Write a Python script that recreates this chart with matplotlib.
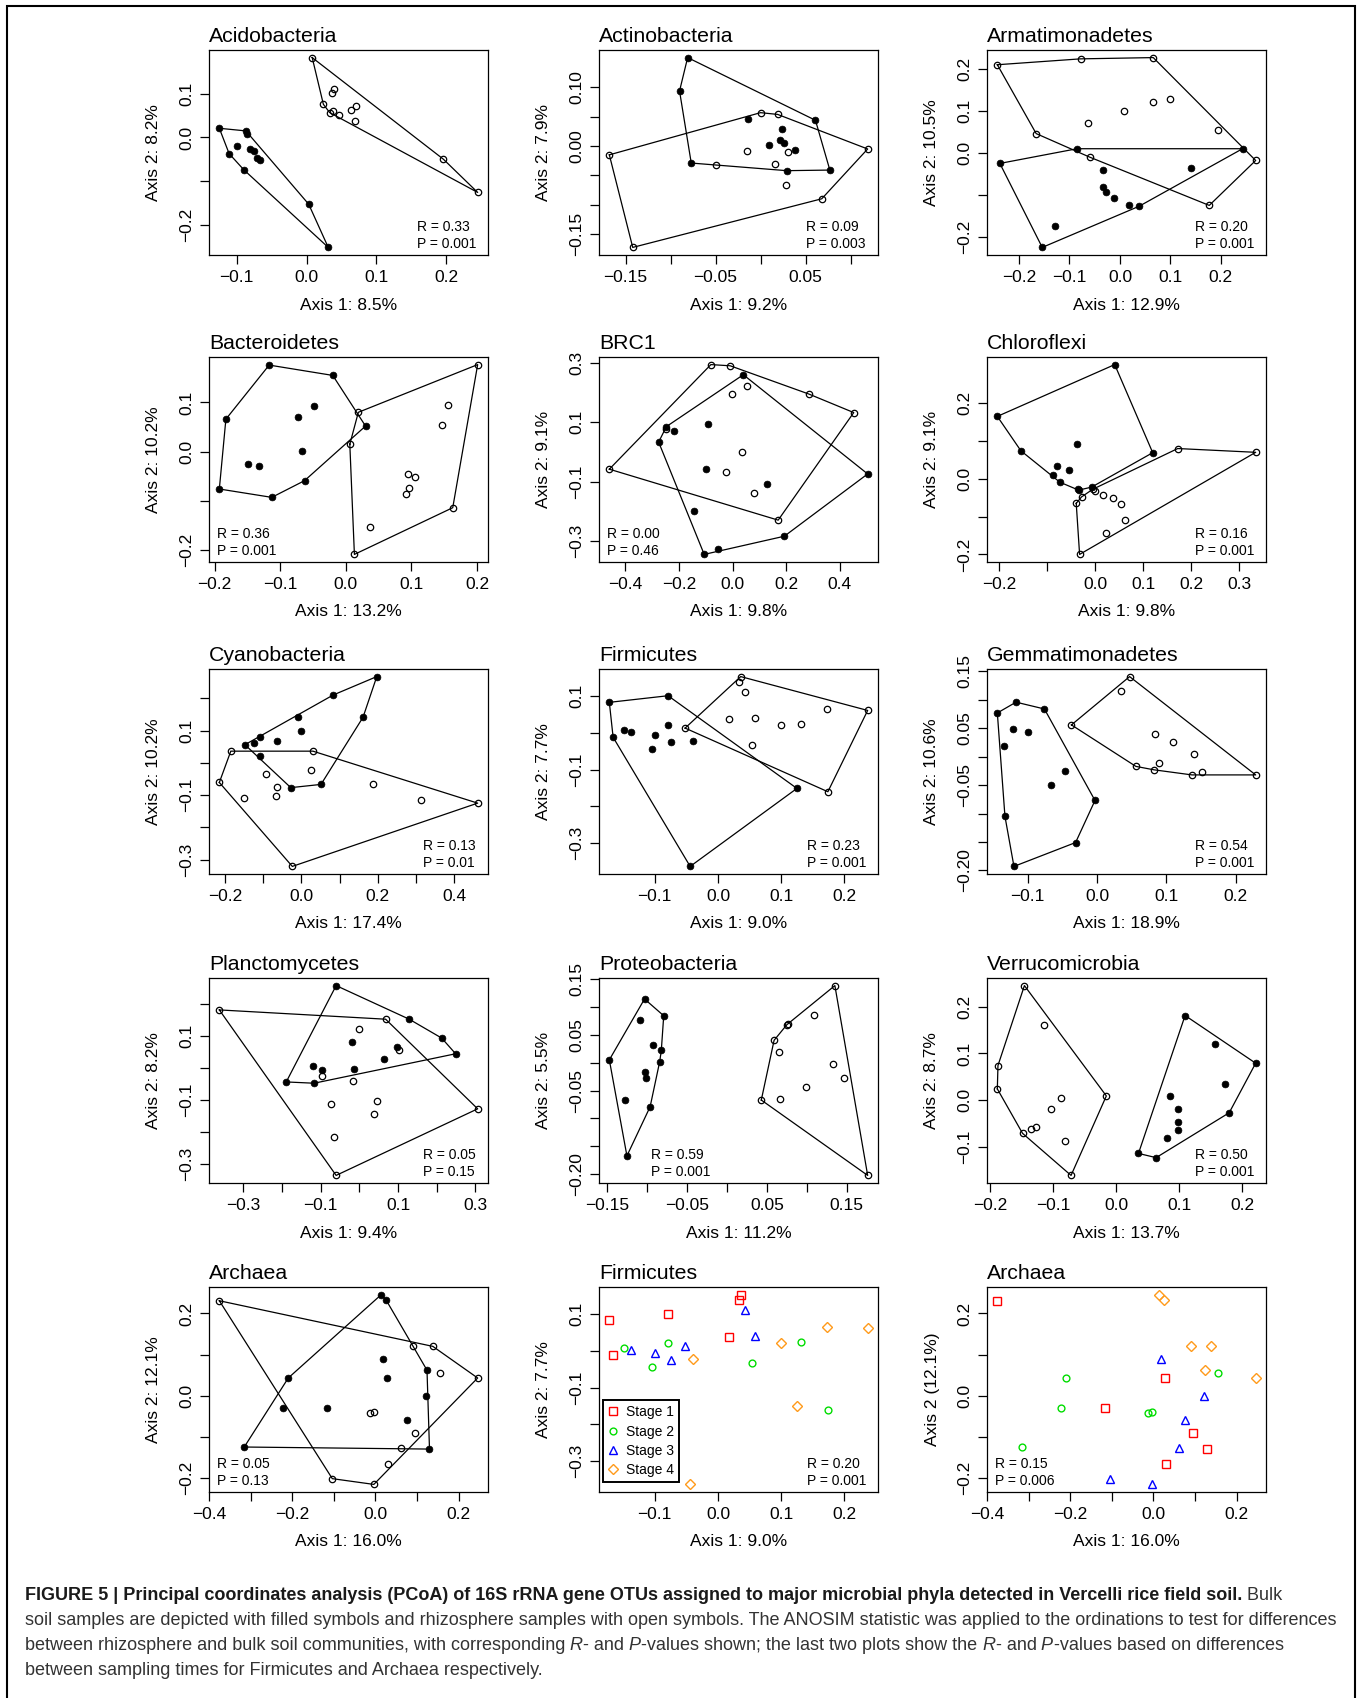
import numpy as np
import matplotlib
matplotlib.use("Agg")
import matplotlib.pyplot as plt
from matplotlib.lines import Line2D
from matplotlib.patches import Rectangle

plt.rcParams['font.family'] = ['Liberation Sans', 'DejaVu Sans']

# PCoA scores (Axis 1, Axis 2); bulk = filled symbols, rhizo = open symbols
acido_bulk = [(-0.125, 0.021), (-0.087, 0.015), (-0.086, 0.008), (-0.100, -0.019), (-0.111, -0.037), (-0.081, -0.027),
              (-0.076, -0.031), (-0.071, -0.046), (-0.067, -0.051), (-0.090, -0.074), (0.003, -0.153), (0.031, -0.252)]
acido_rhizo = [(0.008, 0.183), (0.039, 0.111), (0.036, 0.103), (0.024, 0.076), (0.033, 0.057), (0.038, 0.061),
               (0.046, 0.052), (0.064, 0.063), (0.071, 0.071), (0.069, 0.037), (0.196, -0.050), (0.245, -0.126)]

actino_bulk = [(-0.081, 0.151), (-0.090, 0.094), (-0.077, -0.029), (-0.014, 0.046), (0.024, 0.029), (0.022, 0.011),
               (0.026, 0.006), (0.009, 0.001), (0.038, -0.007), (0.029, -0.042), (0.077, -0.041), (0.061, 0.044)]
actino_rhizo = [(-0.168, -0.015), (-0.142, -0.173), (-0.049, -0.033), (0.000, 0.057), (0.019, 0.054), (-0.015, -0.008),
                (0.031, -0.010), (0.016, -0.031), (0.028, -0.066), (0.068, -0.090), (0.119, -0.005)]

armat_bulk = [(-0.238, -0.025), (-0.154, -0.225), (-0.128, -0.173), (-0.085, 0.010), (-0.034, -0.040), (-0.034, -0.080),
              (-0.028, -0.094), (-0.011, -0.108), (0.018, -0.124), (0.038, -0.127), (0.140, -0.036), (0.243, 0.010)]
armat_rhizo = [(-0.243, 0.210), (-0.078, 0.224), (0.066, 0.227), (-0.166, 0.046), (-0.063, 0.072), (-0.060, -0.010),
               (0.009, 0.101), (0.065, 0.121), (0.100, 0.129), (0.195, 0.054), (0.269, -0.018), (0.177, -0.125)]

bact_bulk = [(-0.117, 0.176), (-0.020, 0.155), (-0.183, 0.066), (-0.193, -0.076), (-0.113, -0.093), (-0.063, -0.059),
             (0.030, 0.052), (-0.048, 0.093), (-0.073, 0.071), (-0.067, 0.002), (-0.150, -0.026), (-0.132, -0.029)]
bact_rhizo = [(0.201, 0.177), (0.019, 0.080), (0.006, 0.015), (0.156, 0.095), (0.146, 0.055), (0.095, -0.046),
              (0.105, -0.052), (0.096, -0.074), (0.092, -0.086), (0.163, -0.114), (0.037, -0.153), (0.013, -0.209)]

brc_bulk = [(0.040, 0.259), (-0.247, 0.085), (-0.219, 0.071), (-0.276, 0.033), (-0.092, 0.094), (-0.101, -0.058),
            (-0.144, -0.198), (-0.106, -0.344), (-0.055, -0.325), (0.129, -0.108), (0.193, -0.283), (0.504, -0.074)]
brc_rhizo = [(-0.081, 0.293), (-0.009, 0.289), (-0.460, -0.058), (-0.247, 0.077), (-0.003, 0.194), (0.052, 0.222),
             (0.285, 0.194), (0.452, 0.132), (0.035, -0.002), (-0.023, -0.067), (0.078, -0.137), (0.170, -0.229)]

chloro_bulk = [(0.041, 0.302), (-0.203, 0.165), (-0.154, 0.074), (0.120, 0.069), (-0.037, 0.091), (-0.078, 0.033),
               (-0.053, 0.023), (-0.088, 0.009), (-0.073, -0.009), (-0.035, -0.026), (-0.007, -0.022), (-0.034, -0.030)]
chloro_rhizo = [(0.172, 0.080), (0.334, 0.070), (0.001, -0.033), (-0.005, -0.028), (-0.028, -0.048), (-0.039, -0.065),
                (0.016, -0.044), (0.037, -0.052), (0.054, -0.067), (0.062, -0.109), (0.023, -0.143), (-0.032, -0.200)]

cyano_bulk = [(0.197, 0.267), (0.083, 0.210), (-0.008, 0.141), (-0.002, 0.100), (0.161, 0.141), (-0.108, 0.079),
              (-0.124, 0.062), (-0.148, 0.056), (-0.063, 0.067), (-0.108, 0.020), (-0.028, -0.077), (0.051, -0.067)]
cyano_rhizo = [(-0.185, 0.036), (0.030, 0.036), (-0.215, -0.061), (-0.093, -0.034), (0.024, -0.022), (-0.065, -0.075),
               (-0.067, -0.104), (-0.150, -0.109), (0.187, -0.067), (0.313, -0.116), (0.461, -0.125), (-0.024, -0.321)]

gemma_bulk = [(-0.144, 0.077), (-0.117, 0.096), (-0.076, 0.084), (-0.121, 0.049), (-0.099, 0.044), (-0.134, 0.018),
              (-0.046, -0.025), (-0.067, -0.050), (-0.003, -0.077), (-0.133, -0.105), (-0.031, -0.151), (-0.120, -0.193)]
gemma_rhizo = [(0.047, 0.141), (0.035, 0.115), (-0.037, 0.056), (0.084, 0.040), (0.109, 0.026), (0.140, 0.005),
               (0.089, -0.011), (0.056, -0.017), (0.082, -0.023), (0.152, -0.027), (0.137, -0.032), (0.229, -0.032)]

planc_bulk = [(-0.060, 0.257), (0.129, 0.152), (0.213, 0.093), (0.249, 0.044), (-0.020, 0.082), (0.097, 0.065),
              (0.064, 0.027), (-0.121, 0.006), (-0.097, -0.008), (-0.014, -0.003), (-0.189, -0.044), (-0.117, -0.048)]
planc_rhizo = [(-0.362, 0.181), (0.068, 0.152), (-0.002, 0.122), (0.103, 0.056), (-0.097, -0.025), (-0.016, -0.040),
               (-0.072, -0.114), (0.046, -0.105), (0.038, -0.145), (-0.066, -0.217), (0.306, -0.128), (-0.060, -0.336)]

proteo_bulk = [(-0.103, 0.114), (-0.079, 0.084), (-0.109, 0.076), (-0.093, 0.032), (-0.082, 0.022), (-0.084, 0.002),
               (-0.102, -0.017), (-0.101, -0.027), (-0.147, 0.005), (-0.128, -0.067), (-0.096, -0.079), (-0.125, -0.167)]
proteo_rhizo = [(0.135, 0.138), (0.109, 0.085), (0.077, 0.070), (0.075, 0.068), (0.059, 0.040), (0.065, 0.019),
                (0.133, -0.002), (0.146, -0.027), (0.099, -0.044), (0.067, -0.066), (0.043, -0.067), (0.176, -0.202)]

verru_bulk = [(0.109, 0.181), (0.156, 0.120), (0.221, 0.079), (0.172, 0.034), (0.085, 0.009), (0.098, -0.018),
              (0.098, -0.046), (0.098, -0.064), (0.080, -0.082), (0.179, -0.027), (0.035, -0.114), (0.063, -0.123)]
verru_rhizo = [(-0.146, 0.245), (-0.115, 0.161), (-0.188, 0.074), (-0.189, 0.024), (-0.088, 0.005), (-0.104, -0.018),
               (-0.127, -0.058), (-0.136, -0.061), (-0.149, -0.071), (-0.081, -0.087), (-0.072, -0.161), (-0.016, 0.009)]

# Firmicutes and Archaea: 24 samples each, with sampling stage and soil type (1 = bulk, 0 = rhizosphere)
firm_x = [-0.172, -0.166, -0.079, 0.036, 0.034, 0.017,
          -0.148, -0.104, -0.079, 0.054, 0.132, 0.174,
          -0.137, -0.099, -0.075, -0.052, 0.043, 0.058,
          -0.039, 0.125, -0.044, 0.099, 0.173, 0.237]
firm_y = [0.083, -0.012, 0.101, 0.153, 0.138, 0.038,
          0.008, -0.044, 0.022, -0.033, 0.025, -0.160,
          0.002, -0.005, -0.024, 0.013, 0.112, 0.040,
          -0.021, -0.151, -0.363, 0.021, 0.064, 0.061]
arch_x = [-0.116, 0.028, 0.130, -0.376, 0.096, 0.029,
          -0.210, -0.222, -0.316, -0.014, -0.004, 0.155,
          0.018, 0.122, 0.076, 0.062, -0.104, -0.004,
          0.014, 0.026, 0.124, 0.090, 0.138, 0.246]
arch_y = [-0.030, 0.043, -0.130, 0.231, -0.090, -0.166,
          0.043, -0.030, -0.125, -0.042, -0.040, 0.056,
          0.089, -0.002, -0.059, -0.127, -0.202, -0.216,
          0.246, 0.232, 0.062, 0.122, 0.120, 0.043]
sample_stage = [1] * 6 + [2] * 6 + [3] * 6 + [4] * 6
sample_bulk = [1, 1, 1, 0, 0, 0] * 4

stage_labels = ['Stage 1', 'Stage 2', 'Stage 3', 'Stage 4']
stage_colors = ['#FF0000', '#00DD00', '#0000FF', '#FF9A1A']
stage_markers = ['s', 'o', '^', 'D']
stage_ms = [5.2, 4.9, 5.8, 4.6]

M = '\u2212'
# ticks (labels hidden where R dropped them)
acido_xt, acido_xl = [-0.1, 0, 0.1, 0.2], [M + '0.1', '0.0', '0.1', '0.2']
acido_yt, acido_yl = [-0.2, -0.1, 0, 0.1], [M + '0.2', '', '0.0', '0.1']
actino_xt, actino_xl = [-0.15, -0.10, -0.05, 0, 0.05, 0.10], [M + '0.15', '', M + '0.05', '', '0.05', '']
actino_yt, actino_yl = [-0.15, -0.10, -0.05, 0, 0.05, 0.10], [M + '0.15', '', '', '0.00', '', '0.10']
armat_xt, armat_xl = [-0.2, -0.1, 0, 0.1, 0.2], [M + '0.2', M + '0.1', '0.0', '0.1', '0.2']
armat_yt, armat_yl = [-0.2, -0.1, 0, 0.1, 0.2], [M + '0.2', '', '0.0', '0.1', '0.2']
bact_xt, bact_xl = [-0.2, -0.1, 0, 0.1, 0.2], [M + '0.2', M + '0.1', '0.0', '0.1', '0.2']
bact_yt, bact_yl = [-0.2, -0.1, 0, 0.1], [M + '0.2', '', '0.0', '0.1']
brc_xt, brc_xl = [-0.4, -0.2, 0, 0.2, 0.4], [M + '0.4', M + '0.2', '0.0', '0.2', '0.4']
brc_yt, brc_yl = [-0.3, -0.1, 0.1, 0.3], [M + '0.3', M + '0.1', '0.1', '0.3']
chloro_xt, chloro_xl = [-0.2, -0.1, 0, 0.1, 0.2, 0.3], [M + '0.2', '', '0.0', '0.1', '0.2', '0.3']
chloro_yt, chloro_yl = [-0.2, -0.1, 0, 0.1, 0.2], [M + '0.2', '', '0.0', '', '0.2']
cyano_xt, cyano_xl = [-0.2, -0.1, 0, 0.1, 0.2, 0.3, 0.4], [M + '0.2', '', '0.0', '', '0.2', '', '0.4']
cyano_yt, cyano_yl = [-0.3, -0.2, -0.1, 0, 0.1, 0.2], [M + '0.3', '', M + '0.1', '', '0.1', '']
firm_xt, firm_xl = [-0.1, 0, 0.1, 0.2], [M + '0.1', '0.0', '0.1', '0.2']
firm_yt, firm_yl = [-0.3, -0.2, -0.1, 0, 0.1], [M + '0.3', '', M + '0.1', '', '0.1']
gemma_xt, gemma_xl = [-0.1, 0, 0.1, 0.2], [M + '0.1', '0.0', '0.1', '0.2']
gemma_yt = [-0.20, -0.15, -0.10, -0.05, 0, 0.05, 0.10, 0.15]
gemma_yl = [M + '0.20', '', '', M + '0.05', '', '0.05', '', '0.15']
planc_xt, planc_xl = [-0.3, -0.2, -0.1, 0, 0.1, 0.2, 0.3], [M + '0.3', '', M + '0.1', '', '0.1', '', '0.3']
planc_yt, planc_yl = [-0.3, -0.2, -0.1, 0, 0.1, 0.2], [M + '0.3', '', M + '0.1', '', '0.1', '']
proteo_xt = [-0.15, -0.10, -0.05, 0, 0.05, 0.10, 0.15]
proteo_xl = [M + '0.15', '', M + '0.05', '', '0.05', '', '0.15']
proteo_yt = [-0.20, -0.15, -0.10, -0.05, 0, 0.05, 0.10, 0.15]
proteo_yl = [M + '0.20', '', '', M + '0.05', '', '0.05', '', '0.15']
verru_xt, verru_xl = [-0.2, -0.1, 0, 0.1, 0.2], [M + '0.2', M + '0.1', '0.0', '0.1', '0.2']
verru_yt, verru_yl = [-0.1, 0, 0.1, 0.2], [M + '0.1', '0.0', '0.1', '0.2']
arch_xt, arch_xl = [-0.4, -0.3, -0.2, -0.1, 0, 0.1, 0.2], [M + '0.4', '', M + '0.2', '', '0.0', '', '0.2']
arch_yt, arch_yl = [-0.2, -0.1, 0, 0.1, 0.2], [M + '0.2', '', '0.0', '', '0.2']

# ---------------------------------------------------------------- layout (pixels)
W, H = 1362, 1698
COL_X = [209, 599, 987]
ROW_Y = [50, 357, 669, 978, 1287]
BOX_W, BOX_H = 279, 205
LAB_FS, TITLE_FS, STAT_FS = 12.5, 15.3, 10

fig = plt.figure(figsize=(W / 100, H / 100), dpi=100)


def make_ax(row, col):
    return fig.add_axes([COL_X[col] / W, 1 - (ROW_Y[row] + BOX_H) / H, BOX_W / W, BOX_H / H])


def lims(v):
    lo, hi = min(v), max(v)
    r = hi - lo
    return lo - 0.04 * r, hi + 0.04 * r


def hull(pts):
    p = sorted(set(pts))

    def cross(o, a, b):
        return (a[0] - o[0]) * (b[1] - o[1]) - (a[1] - o[1]) * (b[0] - o[0])
    lower, upper = [], []
    for q in p:
        while len(lower) >= 2 and cross(lower[-2], lower[-1], q) <= 0:
            lower.pop()
        lower.append(q)
    for q in reversed(p):
        while len(upper) >= 2 and cross(upper[-2], upper[-1], q) <= 0:
            upper.pop()
        upper.append(q)
    h = lower[:-1] + upper[:-1]
    return h + [h[0]]


def style_ax(ax, xs, ys, xt, xl, yt, yl, title, xlab, ylab):
    ax.set_xlim(lims(xs))
    ax.set_ylim(lims(ys))
    ax.set_xticks(xt)
    ax.set_xticklabels(xl)
    ax.set_yticks(yt)
    ax.set_yticklabels(yl, rotation=90, va='center')
    ax.tick_params(direction='out', length=6.5, width=0.9, labelsize=LAB_FS, pad=4)
    for s in ax.spines.values():
        s.set_linewidth(0.9)
    ax.set_xlabel(xlab, fontsize=LAB_FS, va='center')
    ax.xaxis.set_label_coords(0.5, -50 / BOX_H)
    ax.set_ylabel(ylab, fontsize=LAB_FS, va='center')
    ax.yaxis.set_label_coords(-55 / BOX_W, 0.5)
    ax.set_title(title, loc='left', fontsize=TITLE_FS, pad=6)


def stat_text(ax, r, p, where):
    txt = 'R = %s\nP = %s' % (r, p)
    if where == 'br':
        ax.annotate(txt, xy=(1, 0), xycoords='axes fraction', xytext=(-12, 4), textcoords='offset pixels',
                    ha='right', va='bottom', multialignment='left', fontsize=STAT_FS, linespacing=1.25)
    else:
        ax.annotate(txt, xy=(0, 0), xycoords='axes fraction', xytext=(where, 4), textcoords='offset pixels',
                    ha='left', va='bottom', multialignment='left', fontsize=STAT_FS, linespacing=1.25)


def hull_panel(row, col, title, bulk, rhizo, xt, xl, yt, yl, xlab, ylab, r, p, where):
    ax = make_ax(row, col)
    bx, by = zip(*bulk)
    rx, ry = zip(*rhizo)
    ax.plot(rx, ry, 'o', ls='none', ms=4.6, mfc='none', mec='black', mew=0.9, zorder=2)
    ax.plot(bx, by, 'o', ls='none', ms=4.9, mfc='black', mec='black', mew=0.5, zorder=2)
    for pts in (bulk, rhizo):
        hx, hy = zip(*hull(pts))
        ax.plot(hx, hy, '-', color='black', lw=0.9, zorder=3)
    style_ax(ax, bx + rx, by + ry, xt, xl, yt, yl, title, xlab, ylab)
    stat_text(ax, r, p, where)
    return ax


def stage_panel(row, col, title, xs, ys, xt, xl, yt, yl, xlab, ylab, r, p, where, legend=False):
    ax = make_ax(row, col)
    xs, ys = np.array(xs), np.array(ys)
    st = np.array(sample_stage)
    handles = []
    for i in range(4):
        m = st == i + 1
        ax.plot(xs[m], ys[m], ls='none', marker=stage_markers[i], ms=stage_ms[i], mfc='none',
                mec=stage_colors[i], mew=1.0)
        handles.append(Line2D([], [], ls='none', marker=stage_markers[i], ms=stage_ms[i], mfc='none',
                              mec=stage_colors[i], mew=1.0))
    style_ax(ax, list(xs), list(ys), xt, xl, yt, yl, title, xlab, ylab)
    stat_text(ax, r, p, where)
    if legend:
        leg = ax.legend(handles, stage_labels, loc='lower left', bbox_to_anchor=(4 / BOX_W, 10 / BOX_H),
                        frameon=True, fancybox=False, edgecolor='black', framealpha=1, fontsize=STAT_FS,
                        borderpad=0.35, labelspacing=0.38, handlelength=0.8, handletextpad=0.5, borderaxespad=0)
        leg.get_frame().set_linewidth(1.4)
    return ax


hull_panel(0, 0, 'Acidobacteria', acido_bulk, acido_rhizo, acido_xt, acido_xl, acido_yt, acido_yl,
           'Axis 1: 8.5%', 'Axis 2: 8.2%', '0.33', '0.001', 'br')
hull_panel(0, 1, 'Actinobacteria', actino_bulk, actino_rhizo, actino_xt, actino_xl, actino_yt, actino_yl,
           'Axis 1: 9.2%', 'Axis 2: 7.9%', '0.09', '0.003', 'br')
hull_panel(0, 2, 'Armatimonadetes', armat_bulk, armat_rhizo, armat_xt, armat_xl, armat_yt, armat_yl,
           'Axis 1: 12.9%', 'Axis 2: 10.5%', '0.20', '0.001', 'br')
hull_panel(1, 0, 'Bacteroidetes', bact_bulk, bact_rhizo, bact_xt, bact_xl, bact_yt, bact_yl,
           'Axis 1: 13.2%', 'Axis 2: 10.2%', '0.36', '0.001', 8)
hull_panel(1, 1, 'BRC1', brc_bulk, brc_rhizo, brc_xt, brc_xl, brc_yt, brc_yl,
           'Axis 1: 9.8%', 'Axis 2: 9.1%', '0.00', '0.46', 8)
hull_panel(1, 2, 'Chloroflexi', chloro_bulk, chloro_rhizo, chloro_xt, chloro_xl, chloro_yt, chloro_yl,
           'Axis 1: 9.8%', 'Axis 2: 9.1%', '0.16', '0.001', 'br')
hull_panel(2, 0, 'Cyanobacteria', cyano_bulk, cyano_rhizo, cyano_xt, cyano_xl, cyano_yt, cyano_yl,
           'Axis 1: 17.4%', 'Axis 2: 10.2%', '0.13', '0.01', 'br')

firm_pts = list(zip(firm_x, firm_y))
firm_bulk = [q for q, b in zip(firm_pts, sample_bulk) if b]
firm_rhizo = [q for q, b in zip(firm_pts, sample_bulk) if not b]
hull_panel(2, 1, 'Firmicutes', firm_bulk, firm_rhizo, firm_xt, firm_xl, firm_yt, firm_yl,
           'Axis 1: 9.0%', 'Axis 2: 7.7%', '0.23', '0.001', 'br')
hull_panel(2, 2, 'Gemmatimonadetes', gemma_bulk, gemma_rhizo, gemma_xt, gemma_xl, gemma_yt, gemma_yl,
           'Axis 1: 18.9%', 'Axis 2: 10.6%', '0.54', '0.001', 'br')
hull_panel(3, 0, 'Planctomycetes', planc_bulk, planc_rhizo, planc_xt, planc_xl, planc_yt, planc_yl,
           'Axis 1: 9.4%', 'Axis 2: 8.2%', '0.05', '0.15', 'br')
hull_panel(3, 1, 'Proteobacteria', proteo_bulk, proteo_rhizo, proteo_xt, proteo_xl, proteo_yt, proteo_yl,
           'Axis 1: 11.2%', 'Axis 2: 5.5%', '0.59', '0.001', 52)
hull_panel(3, 2, 'Verrucomicrobia', verru_bulk, verru_rhizo, verru_xt, verru_xl, verru_yt, verru_yl,
           'Axis 1: 13.7%', 'Axis 2: 8.7%', '0.50', '0.001', 'br')

arch_pts = list(zip(arch_x, arch_y))
arch_bulk = [q for q, b in zip(arch_pts, sample_bulk) if b]
arch_rhizo = [q for q, b in zip(arch_pts, sample_bulk) if not b]
hull_panel(4, 0, 'Archaea', arch_bulk, arch_rhizo, arch_xt, arch_xl, arch_yt, arch_yl,
           'Axis 1: 16.0%', 'Axis 2: 12.1%', '0.05', '0.13', 8)
stage_panel(4, 1, 'Firmicutes', firm_x, firm_y, firm_xt, firm_xl, firm_yt, firm_yl,
            'Axis 1: 9.0%', 'Axis 2: 7.7%', '0.20', '0.001', 'br', legend=True)
stage_panel(4, 2, 'Archaea', arch_x, arch_y, arch_xt, arch_xl, arch_yt, arch_yl,
            'Axis 1: 16.0%', 'Axis 2 (12.1%)', '0.15', '0.006', 8)

# outer frame (open at the bottom edge of the image)
fig.add_artist(Rectangle((7 / W, -0.02), (1355 - 7) / W, 1.02 - 6 / H, transform=fig.transFigure,
                         fill=False, lw=1.5, ec='black'))

# caption
CAP_FS = 13
CAP_X = 25
cap_lines = [
    (1600, [('FIGURE 5 | Principal coordinates analysis (PCoA) of 16S rRNA gene OTUs assigned to major microbial '
             'phyla detected in Vercelli rice field soil.', 'bold'), (' Bulk', 'normal')]),
    (1625, [('soil samples are depicted with filled symbols and rhizosphere samples with open symbols. The ANOSIM '
             'statistic was applied to the ordinations to test for differences', 'normal')]),
    (1650, [('between rhizosphere and bulk soil communities, with corresponding', 'normal'), (' R', 'italic'),
            ('- and', 'normal'), (' P', 'italic'), ('-values shown; the last two plots show the', 'normal'),
            (' R', 'italic'), ('- and', 'normal'), (' P', 'italic'), ('-values based on differences', 'normal')]),
    (1675, [('between sampling times for Firmicutes and Archaea respectively.', 'normal')]),
]
renderer = fig.canvas.get_renderer()
for y_px, parts in cap_lines:
    x_px = CAP_X
    for s, kind in parts:
        kw = dict(fontsize=CAP_FS, va='baseline', ha='left', color='#333333')
        if kind == 'bold':
            kw.update(fontweight='bold', color='#1a1a1a')
        elif kind == 'italic':
            kw.update(fontstyle='italic')
        t = fig.text(x_px / W, 1 - y_px / H, s, **kw)
        x_px = t.get_window_extent(renderer).x1

fig.savefig('out.png', dpi=100)
